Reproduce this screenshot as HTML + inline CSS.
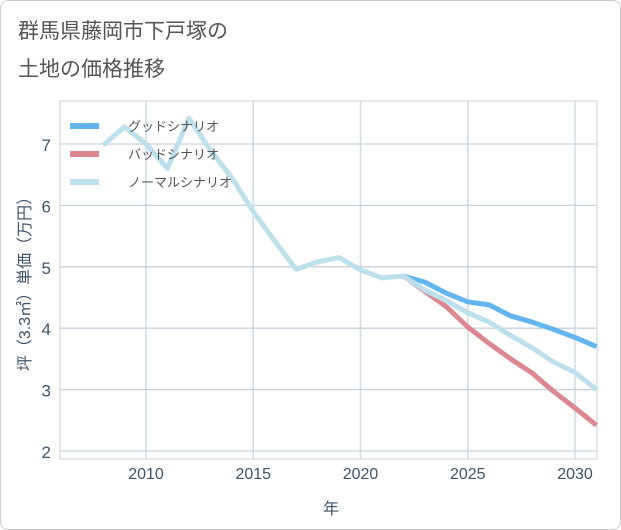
<!DOCTYPE html>
<html><head><meta charset="utf-8"><style>
body{margin:0;background:#fff;font-family:"Liberation Sans","Noto Sans CJK JP",sans-serif}
#wrap{position:relative;width:619px;height:528px;border:1px solid #ccc;border-radius:8px;background:#fff;overflow:hidden}
</style></head><body>
<div id="wrap">
<svg id="chart" width="621" height="530" style="position:absolute;left:-1px;top:-1px">
<text x="18" y="38" font-size="21" fill="#555">群馬県藤岡市下戸塚の</text>
<text x="18" y="76" font-size="21" fill="#555">土地の価格推移</text>
<g id="grid"></g><g id="lines"></g><g id="legend"></g>
<text x="331" y="514" font-size="16" fill="#3f5468" text-anchor="middle">年</text>
<text transform="translate(30,280) rotate(-90)" font-size="16" fill="#3f5468" text-anchor="middle">坪（3.3㎡）単価（万円）</text>
</svg></div>
<script>
const years=[2008,2009,2010,2011,2012,2013,2014,2015,2016,2017,2018,2019,2020,2021,2022,2023,2024,2025,2026,2027,2028,2029,2030,2031];
const normal=[6.98,7.28,7.0,6.6,7.42,6.9,6.45,5.9,5.42,4.96,5.08,5.15,4.95,4.82,4.85,4.62,4.45,4.25,4.1,3.88,3.68,3.45,3.28,3.0];
const goodYears=[2022,2023,2024,2025,2026,2027,2028,2029,2030,2031];
const good=[4.85,4.75,4.57,4.43,4.38,4.2,4.1,3.98,3.85,3.7];
const bad=[4.85,4.6,4.35,4.02,3.75,3.5,3.27,2.97,2.7,2.42];
const xTicks=[2010,2015,2020,2025,2030];
const yTicks=[2,3,4,5,6,7];
const L=60,R=597,T=101,B=459;
const x=v=>146+(v-2010)*(575-146)/20;
const y=v=>144+(7-v)*(451-144)/5;
const NS="http://www.w3.org/2000/svg";
function mk(p,t,a){const e=document.createElementNS(NS,t);for(const k in a)e.setAttribute(k,a[k]);p.appendChild(e);return e;}
const g=document.getElementById('grid');
let r=mk(g,'rect',{x:L,y:T,width:R-L,height:B-T,fill:'none',stroke:'#c8d0da'});


xTicks.forEach(t=>{
 let l=mk(g,'line',{x1:x(t),x2:x(t),y1:T,y2:B,stroke:'#d0dbe6','stroke-width':1.5});
 
 
 let s=mk(g,'text',{x:x(t),y:479,'font-size':16,fill:'#3f5468','text-anchor':'middle'});s.textContent=t;
 
 
});
yTicks.forEach(t=>{
 let l=mk(g,'line',{x1:L,x2:R,y1:y(t),y2:y(t),stroke:'#c8d2dc','stroke-width':1.3});
 
 
 let s=mk(g,'text',{x:51,y:y(t)+7,'font-size':17,fill:'#3f5468','text-anchor':'end'});s.textContent=t;
 
 
});
const ln=document.getElementById('lines');
function line(xs,vs,c,name){
 let p=mk(ln,'polyline',{points:xs.map((v,i)=>x(v)+','+y(vs[i])).join(' '),fill:'none',stroke:c,'stroke-width':5,'stroke-linejoin':'round'});
 
 
}
line(goodYears,good,'#62b6f0','good-scenario-line');
line(goodYears,bad,'#dc8890','bad-scenario-line');
line(years,normal,'#bde0ec','normal-scenario-line');
const lg=document.getElementById('legend');
[['グッドシナリオ','#62b6f0'],['バッドシナリオ','#dc8890'],['ノーマルシナリオ','#bde0ec']].forEach((d,i)=>{
 let yy=126+i*28;
 let l=mk(lg,'line',{x1:70,x2:99,y1:yy,y2:yy,stroke:d[1],'stroke-width':6});
 
 
 let s=mk(lg,'text',{x:128,y:yy+5,'font-size':13,fill:'#555'});s.textContent=d[0];
 
 
});
</script>
</body></html>
